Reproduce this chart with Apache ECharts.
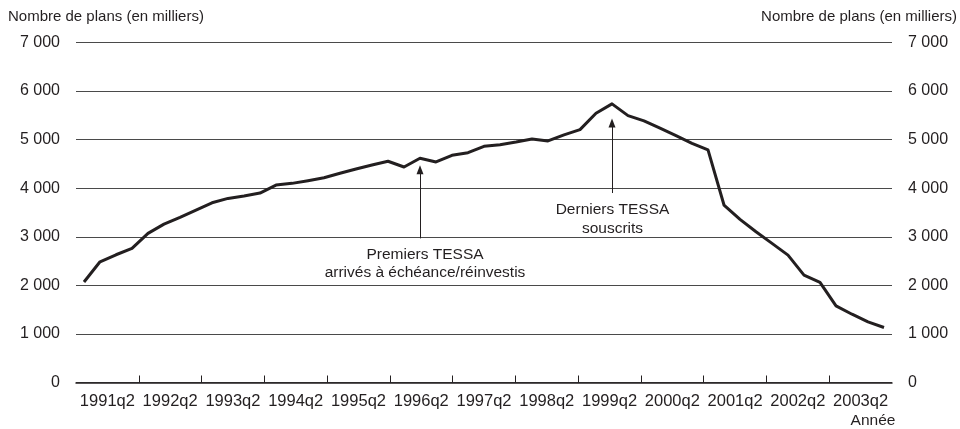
<!DOCTYPE html>
<html>
<head>
<meta charset="utf-8">
<script src="https://cdn.jsdelivr.net/npm/echarts@6/dist/echarts.min.js"></script>
<style>
html,body{margin:0;padding:0;background:#fff;}
#chart{width:960px;height:429px;}
</style>
</head>
<body>
<div id="chart"></div>
<script>
// Year tick labels (one per year band)
var yearLabels = ['1991q2','1992q2','1993q2','1994q2','1995q2','1996q2','1997q2','1998q2','1999q2','2000q2','2001q2','2002q2','2003q2'];
// Quarterly categories 1991q1 .. 2003q3
var quarters = [];
for (var y = 1991; y <= 2003; y++) {
  for (var q = 1; q <= 4; q++) {
    if (y === 2003 && q === 4) break;
    quarters.push(y + 'q' + q);
  }
}
// Number of plans (thousands)
var plans = [
  2070, 2485, 2630, 2760,
  3070, 3260, 3400, 3550,
  3700, 3790, 3840, 3900,
  4065, 4100, 4155, 4215,
  4307, 4396, 4478, 4555,
  4437, 4616, 4540, 4678,
  4732, 4863, 4897, 4952,
  5015, 4973, 5097, 5206,
  5544, 5736, 5495, 5386,
  5235, 5083, 4925, 4788,
  3654, 3358, 3103, 2864,
  2623, 2210, 2060, 1577,
  1406, 1247, 1132
];
var yTicks = [0, 1000, 2000, 3000, 4000, 5000, 6000, 7000];
var yearTickPos = [1,2,3,4,5,6,7,8,9,10,11,12];
var yearLabelPos = [0.5,1.5,2.5,3.5,4.5,5.5,6.5,7.5,8.5,9.5,10.5,11.5,12.5];
// Annotations: [quarter index, arrow start value, arrow head centre value]
var arrow1 = [21, 2967, 4380];
var arrow2 = [33, 3901, 5345];

var INK = '#231f20';
var FONT = '"Liberation Sans", Arial, Helvetica, sans-serif';
function fmt(v) {
  if (v === 0) return '0';
  var s = String(v);
  return s.slice(0, s.length - 3) + ' ' + s.slice(s.length - 3);
}

var chart = echarts.init(document.getElementById('chart'), null, {renderer: 'canvas'});
chart.setOption({
  animation: false,
  backgroundColor: '#fff',
  textStyle: {fontFamily: FONT, color: INK},
  grid: {left: 76, right: 68, top: 42.5, bottom: 46.5, containLabel: false},
  xAxis: [
    {
      type: 'value', min: 0, max: 13, interval: 1, position: 'bottom',
      axisLine: {show: true, lineStyle: {color: INK, width: 1.5}},
      axisTick: {show: true, inside: true, length: 7, customValues: yearTickPos, lineStyle: {color: INK, width: 1}},
      axisLabel: {
        show: true, customValues: yearLabelPos, margin: 10,
        fontSize: 16.5, color: INK, fontFamily: FONT,
        formatter: function (v) { return yearLabels[Math.floor(v)]; }
      },
      splitLine: {show: false}
    },
    {
      type: 'category', data: quarters, boundaryGap: true, show: false
    }
  ],
  yAxis: [
    {
      type: 'value', min: 0, max: 7000, interval: 1000, position: 'left',
      axisLine: {show: false}, axisTick: {show: false},
      axisLabel: {margin: 16, fontSize: 16, color: INK, fontFamily: FONT, formatter: fmt, padding: [0, 0, 4, 0]},
      splitLine: {show: true, lineStyle: {color: '#4a4a4a', width: 1}}
    },
    {
      type: 'value', min: 0, max: 7000, interval: 1000, position: 'right',
      axisLine: {show: false}, axisTick: {show: false},
      axisLabel: {margin: 16, fontSize: 16, color: INK, fontFamily: FONT, formatter: fmt, padding: [0, 0, 4, 0]},
      splitLine: {show: false}
    }
  ],
  series: [{
    type: 'line',
    xAxisIndex: 1, yAxisIndex: 0,
    data: plans,
    symbol: 'none',
    lineStyle: {color: INK, width: 3, join: 'round'},
    z: 5,
    markLine: {
      silent: true,
      symbol: ['none', 'triangle'],
      symbolSize: [7, 9],
      label: {show: false},
      lineStyle: {color: INK, width: 1, type: 'solid'},
      data: [
        [{coord: [quarters[arrow1[0]], arrow1[1]]}, {coord: [quarters[arrow1[0]], arrow1[2]]}],
        [{coord: [quarters[arrow2[0]], arrow2[1]]}, {coord: [quarters[arrow2[0]], arrow2[2]]}]
      ]
    }
  }],
  graphic: [
    {type: 'text', left: 8, top: 9, style: {text: 'Nombre de plans (en milliers)', font: '15px ' + FONT, fill: INK}},
    {type: 'text', right: 3, top: 9, style: {text: 'Nombre de plans (en milliers)', font: '15px ' + FONT, fill: INK}},
    {type: 'text', x: 873, y: 421, style: {text: 'Année', font: '15.5px ' + FONT, fill: INK, align: 'center', verticalAlign: 'middle'}},
    {type: 'text', x: 425, y: 264, style: {text: 'Premiers TESSA\narrivés à échéance/réinvestis', font: '15.5px ' + FONT, lineHeight: 18, fill: INK, align: 'center', verticalAlign: 'middle'}},
    {type: 'text', x: 612.5, y: 219, style: {text: 'Derniers TESSA\nsouscrits', font: '15.5px ' + FONT, lineHeight: 18.5, fill: INK, align: 'center', verticalAlign: 'middle'}}
  ]
});
</script>
</body>
</html>
